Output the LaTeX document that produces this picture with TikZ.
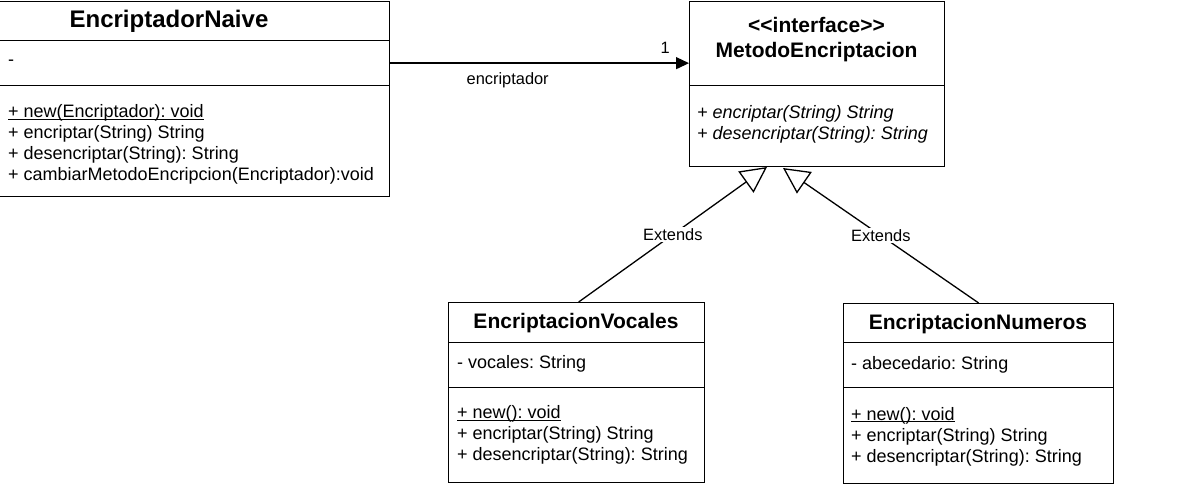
\documentclass[tikz,border=0pt]{standalone}
\usepackage{fontspec}
\setmainfont{Liberation Sans}
\usetikzlibrary{arrows.meta}
\frenchspacing
\newcommand{\bodyfs}{\fontsize{18}{21}\selectfont\frenchspacing}
\newcommand{\titlefs}{\fontsize{21}{24}\selectfont\bfseries}
\newcommand{\bigtitlefs}{\fontsize{24}{27}\selectfont\bfseries}
\newcommand{\labelfs}{\fontsize{16.4}{19}\selectfont}
\newcommand{\ulx}[1]{\setbox0\hbox{#1}\rlap{\rule[-2.2pt]{\wd0}{1.1pt}}\box0}
\tikzset{
  comp/.style={draw, line width=1.3pt, inner sep=0pt, anchor=north west},
  txt/.style={inner sep=0pt, anchor=base west, font=\bodyfs},
  ititle/.style={inner sep=0pt, anchor=base, font=\titlefs},
  conn/.style={line width=1.3pt},
  lbl/.style={inner sep=1pt, font=\labelfs},
}
\begin{document}
\begin{tikzpicture}[x=1pt,y=-1pt]
\useasboundingbox (0,0) rectangle (1201,487);
\fill[white] (0,0) rectangle (1201,487);
\clip (0,0) rectangle (1201,487);

% EncriptadorNaive
\node[comp, minimum width=441pt, minimum height=39pt] (naivetitle) at (-52,1) {};
\node[comp, minimum width=441pt, minimum height=45pt] (naiveattr) at (-52,40) {};
\node[comp, minimum width=441pt, minimum height=111pt] (naivemeth) at (-52,85) {};
\node[inner sep=0pt, anchor=base, font=\bigtitlefs] (naivename) at (169,27.5) {EncriptadorNaive};
\node[txt] (na1) at (8,66) {-};
\node[txt] (nm1) at (8,117.5) {\ulx{+ new(Encriptador): void}};
\node[txt] (nm2) at (8,138.5) {+ encriptar(String) String};
\node[txt] (nm3) at (8,159.5) {+ desencriptar(String): String};
\node[txt] (nm4) at (8,180.5) {+ cambiarMetodoEncripcion(Encriptador):void};

% Interface
\node[comp, minimum width=255pt, minimum height=84pt] (ifacetitle) at (689,1) {};
\node[comp, minimum width=255pt, minimum height=81pt] (ifacemeth) at (689,85) {};
\node[ititle] (istereo) at (816.5,33) {<\kern0pt<interface>\kern0pt>};
\node[ititle] (iname) at (816.5,57.5) {MetodoEncriptacion};
\node[txt, font=\bodyfs\itshape] (im1) at (697,118) {+ encriptar(String) String};
\node[txt, font=\bodyfs\itshape] (im2) at (697,139) {+ desencriptar(String): String};

% EncriptacionVocales
\node[comp, minimum width=256pt, minimum height=40pt] (voctitle) at (448,302) {};
\node[comp, minimum width=256pt, minimum height=45pt] (vocattr) at (448,342) {};
\node[comp, minimum width=256pt, minimum height=95pt] (vocmeth) at (448,387) {};
\node[ititle] (vocname) at (576,328.5) {EncriptacionVocales};
\node[txt] (va1) at (457,368) {- vocales: String};
\node[txt] (vm1) at (457,418.7) {\ulx{+ new(): void}};
\node[txt] (vm2) at (457,439.7) {+ encriptar(String) String};
\node[txt] (vm3) at (457,460.7) {+ desencriptar(String): String};

% EncriptacionNumeros
\node[comp, minimum width=270pt, minimum height=39pt] (numtitle) at (843,303) {};
\node[comp, minimum width=270pt, minimum height=45pt] (numattr) at (843,342) {};
\node[comp, minimum width=270pt, minimum height=96pt] (nummeth) at (843,387) {};
\node[ititle] (numname) at (978,329.5) {EncriptacionNumeros};
\node[txt] (ma1) at (851,369) {- abecedario: String};
\node[txt] (mm1) at (851,420) {\ulx{+ new(): void}};
\node[txt] (mm2) at (851,441) {+ encriptar(String) String};
\node[txt] (mm3) at (851,462) {+ desencriptar(String): String};

% Connectors
\draw[conn, -{Triangle[length=13pt,width=12pt]}] (naiveattr.east) -- (naiveattr.east -| ifacetitle.west)
  node[lbl, pos=0.92, yshift=15.5pt] (mult) {1}
  node[lbl, pos=0.393, yshift=-17.5pt] (role) {encriptador};

\coordinate (tipL) at (767,167);
\coordinate (tipR) at (783,168);
\draw[conn, -{Triangle[open, length=26pt, width=26pt]}] ([xshift=2pt]voctitle.north) -- (tipL)
  node[lbl, midway, fill=white] (extL) {Extends};
\draw[conn, -{Triangle[open, length=26pt, width=26pt]}] (numtitle.north) -- (tipR)
  node[lbl, midway, fill=white] (extR) {Extends};
\end{tikzpicture}
\end{document}
